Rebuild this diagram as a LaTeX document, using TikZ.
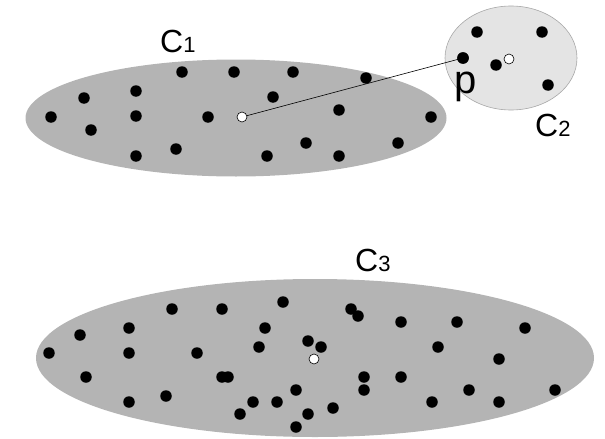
\documentclass[tikz,border=0pt]{standalone}
\usepackage{fontspec}
\setmainfont{Liberation Sans}
\usetikzlibrary{shapes.geometric}
\definecolor{cdark}{HTML}{B4B4B4}
\definecolor{clight}{HTML}{E4E4E4}
\definecolor{cedge}{HTML}{A8A8A8}
\newcommand\mysubfont{\fontsize{22}{24}\selectfont}
\begin{document}
\begin{tikzpicture}[x=1pt,y=-1pt,
  dot/.style={circle,fill=black,inner sep=0pt,minimum size=11.5pt},
  cent/.style={circle,fill=white,draw=black,line width=0.6pt,inner sep=0pt,minimum size=10pt},
  lab/.style={anchor=base west,inner sep=0pt,font=\fontsize{32}{34}\selectfont}]
\useasboundingbox (0,0) rectangle (605,439);
% clusters
\node (e1) [ellipse,fill=cdark,draw=none,minimum width=421pt,minimum height=117pt,inner sep=0pt] at (236,118) {};
\node (e2) [ellipse,fill=clight,draw=cedge,line width=0.6pt,minimum width=132pt,minimum height=104pt,inner sep=0pt] at (511,58) {};
\node (e3) [ellipse,fill=cdark,draw=none,minimum width=558pt,minimum height=158pt,inner sep=0pt] at (315,358) {};
% C1 points
\foreach \p [count=\i] in {(182,72),(234,72),(293,72),(366,78),(136,91),(84,98),(273,97),(51,117),(136,116),(208,117),(339,110),(431,117),(91,130),(176,149),(136,156),(267,156),(306,143),(339,156),(398,143)}
  \node[dot] (a\i) at \p {};
% C2 points
\foreach \p [count=\i] in {(477,32),(542,32),(496,65),(548,85)}
  \node[dot] (b\i) at \p {};
\node[dot] (p) at (463,58) {};
% C3 points
\foreach \p [count=\i] in {(172,309),(222,309),(283,302),(351,309),(358,316),(401,322),(457,322),(525,328),(129,328),(80,335),(265,328),(49,353),(129,353),(197,353),(259,347),(308,341),(321,347),(438,347),(499,359),(86,377),(222,377),(228,377),(364,377),(401,377),(364,390),(296,390),(469,390),(555,390),(166,396),(129,402),(253,402),(277,402),(432,402),(499,402),(333,408),(240,414),(308,414),(296,427)}
  \node[dot] (c\i) at \p {};
% centres
\node[cent] (m1) at (242,117) {};
\node[cent] (m2) at (509,59) {};
\node[cent] (m3) at (314,359) {};
\draw[line width=0.6pt] (m1) -- (p.center);
\node[dot] at (p) {};
% labels
\node[lab] (l1) at (160,52) {C{\mysubfont 1}};
\node[lab] (l2) at (535,136) {C{\mysubfont 2}};
\node[lab] (l3) at (355,271) {C{\mysubfont 3}};
\node[anchor=base west,inner sep=0pt,font=\fontsize{40}{42}\selectfont] (lp) at (454,93) {p};
\end{tikzpicture}
\end{document}
